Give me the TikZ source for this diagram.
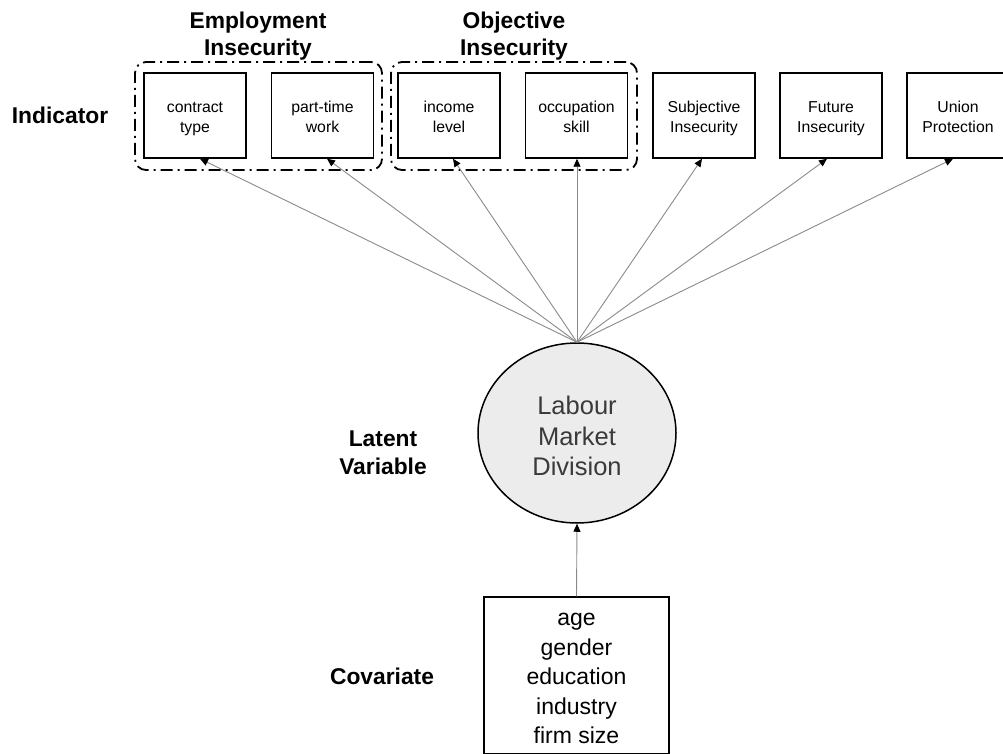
\documentclass[tikz,border=0pt]{standalone}
\usepackage{fontspec}
\setmainfont{Liberation Sans}
\usetikzlibrary{arrows.meta,shapes.geometric,calc}
\definecolor{linegray}{HTML}{8A8A8A}
\definecolor{fillgray}{HTML}{ECECEC}
\definecolor{txtgray}{HTML}{3A3A3A}
\tikzset{
  indbox/.style={draw=black,line width=1.5pt,minimum width=102pt,minimum height=85pt,inner sep=0pt,align=center,font=\fontsize{15.8}{19.5}\selectfont},
  grp/.style={draw=black,line width=1.8pt,rounded corners=11pt,dash pattern=on 12pt off 5pt on 2pt off 5pt},
  rowlabel/.style={font=\bfseries\fontsize{22.8}{27.5}\selectfont,align=center,inner sep=0pt},
  load/.style={draw=linegray,line width=0.9pt,-{Triangle[color=black,length=8pt,width=7pt]}}
}
\newcommand{\twoline}[2]{\rule{0pt}{19.5pt}#1\\\strut#2}
\begin{document}
\begin{tikzpicture}[x=1pt,y=-1pt]
\useasboundingbox (0,0) rectangle (1003,754);
% indicator boxes
\node[indbox] (b1) at (195,115.5) {\twoline{contract}{type}};
\node[indbox] (b2) at (322.5,115.5) {\twoline{part-time}{work}};
\node[indbox] (b3) at (449,115.5) {\twoline{income}{level}};
\node[indbox] (b4) at (576.5,115.5) {\twoline{occupation}{skill}};
\node[indbox] (b5) at (704,115.5) {\twoline{Subjective}{Insecurity}};
\node[indbox] (b6) at (831,115.5) {\twoline{Future}{Insecurity}};
\node[indbox] (b7) at (958,115.5) {\twoline{Union}{Protection}};
% groups
\node[grp,minimum width=247pt,minimum height=108pt] (g1) at (258.5,116) {};
\node[grp,minimum width=246pt,minimum height=108pt] (g2) at (514,116) {};
\node[rowlabel] (t1) at (258,36) {Employment\\Insecurity};
\node[rowlabel] (t2) at (514,36) {Objective\\Insecurity};
% labels
\node[rowlabel] (lind) at (60,115) {Indicator};
\node[rowlabel] (llat) at (383,453) {Latent\\Variable};
\node[rowlabel] (lcov) at (382,676) {Covariate};
% latent
\node[ellipse,draw=black,line width=1.5pt,fill=fillgray,minimum width=198pt,minimum height=180pt,inner sep=0pt] (lat) at (577,433) {};
\node[text=txtgray,font=\fontsize{25.5}{30.5}\selectfont,align=center,inner sep=0pt] (latt) at (577,436) {Labour\\Market\\Division};
% covariate
\node[draw=black,line width=1.5pt,minimum width=185pt,minimum height=157pt,inner sep=0pt] (cov) at (576.5,675.5) {};
\node[align=center,inner sep=0pt,font=\fontsize{23}{29.5}\selectfont] (covt) at (576.5,678.5) {age\\gender\\education\\industry\\firm size};
% loadings
\draw[load] (lat.north) -- ([xshift=5pt]b1.south);
\draw[load] (lat.north) -- ([xshift=4.5pt]b2.south);
\draw[load] (lat.north) -- ([xshift=4pt]b3.south);
\draw[load] (lat.north) -- ([xshift=0.5pt]b4.south);
\draw[load] (lat.north) -- ([xshift=-2pt]b5.south);
\draw[load] (lat.north) -- ([xshift=-4pt]b6.south);
\draw[load] (lat.north) -- ([xshift=-5pt]b7.south);
\draw[load] (cov.north) -- (lat.south);
\end{tikzpicture}
\end{document}
